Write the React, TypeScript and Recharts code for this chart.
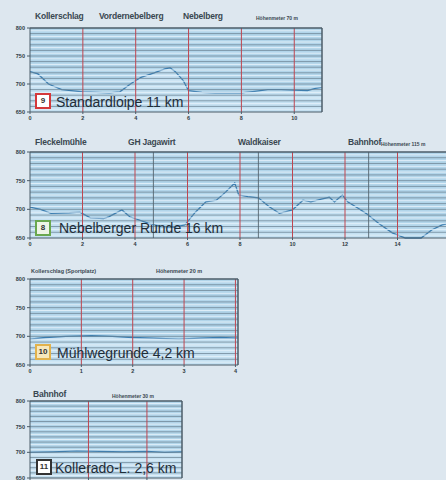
import React from "react";
import {
  Area,
  CartesianGrid,
  ComposedChart,
  ReferenceLine,
  XAxis,
  YAxis,
} from "recharts";

// Höhenachse (gleich für alle Loipen)
const elevTicks = [650, 700, 750, 800];

// 9 Standardloipe 11 km
const standardKm = [0, 0.3, 0.7, 1.2, 2, 3, 3.4, 3.8, 4.2, 4.7, 5.1, 5.3, 5.5, 5.8, 6.0, 6.5, 7, 8, 8.5, 9, 9.5, 10, 10.5, 10.8, 11.05];
const standardElev = [722, 718, 700, 690, 686, 684, 686, 700, 712, 720, 727, 729, 722, 706, 688, 685, 684, 684, 687, 690, 690, 689, 688, 692, 694];
const standardTicks = [0, 2, 4, 6, 8, 10];
const standardPlaces = ["Kollerschlag", "Vordernebelberg", "Nebelberg"];

// 8 Nebelberger Runde 16 km
const nebelKm = [0, 0.4, 0.8, 1.5, 1.9, 2.3, 2.8, 3.0, 3.5, 3.8, 4.5, 5.0, 5.5, 5.9, 6.3, 6.7, 7.1, 7.45, 7.8, 7.95, 8.3, 8.7, 9.1, 9.5, 10.0, 10.4, 10.7, 11.1, 11.4, 11.6, 11.9, 12.1, 12.5, 12.8, 13.3, 13.8, 14.3, 14.9, 15.3, 15.7, 16];
const nebelElev = [704, 700, 693, 694, 695, 685, 684, 687, 699, 687, 676, 670, 669, 673, 695, 713, 716, 730, 746, 725, 722, 720, 705, 693, 699, 716, 713, 718, 721, 713, 725, 713, 702, 693, 675, 659, 650, 650, 664, 673, 676];
const nebelTicks = [0, 2, 4, 6, 8, 10, 12, 14, 16];
const nebelMarkers = [4.7, 8.7, 12.9];
const nebelPlaces = ["Fleckelmühle", "GH Jagawirt", "Waldkaiser", "Bahnhof"];

// 10 Mühlwegrunde 4,2 km
const muehlKm = [0, 0.3, 0.7, 1.2, 1.6, 2.0, 2.4, 2.9, 3.3, 3.7, 4.05];
const muehlElev = [695, 698, 700, 701, 700, 698, 697, 695, 697, 698, 697];
const muehlTicks = [0, 1, 2, 3, 4];

// 11 Kollerado-L. 2,6 km
const kollKm = [0, 0.4, 0.8, 1.2, 1.6, 2.0, 2.3, 2.6];
const kollElev = [700, 701, 703, 702, 701, 702, 700, 701];
const kollTicks = [0, 1, 2];

const gridMinor: number[] = [];
for (let v = 655; v < 800; v += 10) gridMinor.push(v);
const gridMajor: number[] = [];
for (let v = 660; v < 800; v += 10) gridMajor.push(v);

const BORDER = "#4b5c68";
const RED = "#bf4650";
const tickStyle = { fontSize: 5.5, fill: "#2f3a42", fontWeight: 700 };

interface ProfileProps {
  km: number[];
  elev: number[];
  xMax: number;
  xTicks: number[];
  redLines: number[];
  markers?: number[];
  top: number;
  width: number;
  height: number;
  marginTop: number;
}

const Profile: React.FC<ProfileProps> = ({ km, elev, xMax, xTicks, redLines, markers = [], top, width, height, marginTop }) => {
  const data = km.map((k, i) => ({ km: k, elev: elev[i] }));
  return (
    <div style={{ position: "absolute", left: 0, top }}>
      <ComposedChart width={width} height={height} data={data} margin={{ top: marginTop, right: 8, left: 0, bottom: 0 }}>
        <CartesianGrid fill="#b2d5ea" horizontal={false} vertical={false} />
        {gridMinor.map((v) => (
          <ReferenceLine key={`n${v}`} y={v} stroke="#e4f1f9" strokeWidth={0.9} />
        ))}
        {gridMajor.map((v) => (
          <ReferenceLine key={`j${v}`} y={v} stroke="#6f8797" strokeWidth={0.8} />
        ))}
        {redLines.map((x) => (
          <ReferenceLine key={`r${x}`} x={x} stroke={RED} strokeWidth={1} />
        ))}
        {markers.map((x) => (
          <ReferenceLine key={`m${x}`} x={x} stroke="#55656f" strokeWidth={0.9} />
        ))}
        <ReferenceLine y={800} stroke={BORDER} strokeWidth={1.5} />
        <ReferenceLine x={xMax} stroke={BORDER} strokeWidth={1.5} />
        <XAxis
          type="number"
          dataKey="km"
          domain={[0, xMax]}
          ticks={xTicks}
          allowDataOverflow
          height={13}
          tick={tickStyle}
          tickSize={2}
          stroke={BORDER}
          interval={0}
        />
        <YAxis
          type="number"
          domain={[650, 800]}
          ticks={elevTicks}
          width={30}
          tick={tickStyle}
          tickSize={3}
          stroke={BORDER}
          interval={0}
        />
        <Area
          type="linear"
          dataKey="elev"
          baseValue={650}
          stroke="#3b7db0"
          strokeWidth={1.3}
          fill="#d6ecf8"
          fillOpacity={0.5}
          isAnimationActive={false}
          dot={false}
          activeDot={false}
        />
      </ComposedChart>
    </div>
  );
};

const placeStyle: React.CSSProperties = {
  position: "absolute",
  fontSize: 8.5,
  fontWeight: 700,
  color: "#3a4751",
  whiteSpace: "nowrap",
  letterSpacing: -0.2,
};
const smallStyle: React.CSSProperties = {
  position: "absolute",
  fontSize: 5,
  fontWeight: 700,
  color: "#3a4751",
  whiteSpace: "nowrap",
};
const titleStyle: React.CSSProperties = {
  position: "absolute",
  fontSize: 14,
  color: "#1f2d38",
  whiteSpace: "nowrap",
  lineHeight: "16px",
};

const Badge: React.FC<{ n: string; left: number; top: number; border: string; bg: string }> = ({ n, left, top, border, bg }) => (
  <div
    style={{
      position: "absolute",
      left,
      top,
      width: 12,
      height: 12,
      border: `2px solid ${border}`,
      background: bg,
      fontSize: 8,
      fontWeight: 700,
      textAlign: "center",
      lineHeight: "12px",
      color: "#333",
    }}
  >
    {n}
  </div>
);

export default function App() {
  return (
    <div
      style={{
        position: "absolute",
        left: 0,
        top: 0,
        width: 446,
        height: 480,
        overflow: "hidden",
        background: "#dde7ef",
        fontFamily: "'Liberation Sans', Arial, sans-serif",
      }}
    >
      <Profile km={standardKm} elev={standardElev} xMax={11.05} xTicks={standardTicks} redLines={[2, 4, 6, 8, 10]} top={0} width={330} height={125} marginTop={28} />
      <span style={{ ...placeStyle, left: 35, top: 11 }}>{standardPlaces[0]}</span>
      <span style={{ ...placeStyle, left: 99, top: 11 }}>{standardPlaces[1]}</span>
      <span style={{ ...placeStyle, left: 183, top: 11 }}>{standardPlaces[2]}</span>
      <span style={{ ...smallStyle, left: 256, top: 15 }}>Höhenmeter 70 m</span>
      <Badge n="9" left={35} top={93} border="#d4393b" bg="#ffffff" />
      <span style={{ ...titleStyle, left: 56, top: 94 }}>Standardloipe 11 km</span>

      <Profile km={nebelKm} elev={nebelElev} xMax={16} xTicks={nebelTicks} redLines={[2, 4, 6, 8, 10, 12, 14]} markers={nebelMarkers} top={130} width={458} height={121} marginTop={22} />
      <span style={{ ...placeStyle, left: 35, top: 137 }}>{nebelPlaces[0]}</span>
      <span style={{ ...placeStyle, left: 128, top: 137 }}>{nebelPlaces[1]}</span>
      <span style={{ ...placeStyle, left: 238, top: 137 }}>{nebelPlaces[2]}</span>
      <span style={{ ...placeStyle, left: 348, top: 137 }}>{nebelPlaces[3]}</span>
      <span style={{ ...smallStyle, left: 381, top: 141 }}>Höhenmeter 115 m</span>
      <Badge n="8" left={35} top={220} border="#6aa84f" bg="#eef5e6" />
      <span style={{ ...titleStyle, left: 59, top: 220 }}>Nebelberger Runde 16 km</span>

      <Profile km={muehlKm} elev={muehlElev} xMax={4.05} xTicks={muehlTicks} redLines={[1, 2, 3, 4]} top={260} width={246} height={118} marginTop={19} />
      <span style={{ ...smallStyle, left: 31, top: 268, fontSize: 5.5 }}>Kollerschlag (Sportplatz)</span>
      <span style={{ ...smallStyle, left: 156, top: 268, fontSize: 5.5 }}>Höhenmeter 20 m</span>
      <Badge n="10" left={35} top={344} border="#e2b24c" bg="#f6e8bd" />
      <span style={{ ...titleStyle, left: 57, top: 345 }}>Mühlwegrunde 4,2 km</span>

      <Profile km={kollKm} elev={kollElev} xMax={2.6} xTicks={kollTicks} redLines={[1, 2]} top={380} width={190} height={111} marginTop={21} />
      <span style={{ ...placeStyle, left: 33, top: 389 }}>Bahnhof</span>
      <span style={{ ...smallStyle, left: 112, top: 393 }}>Höhenmeter 30 m</span>
      <Badge n="11" left={36} top={459} border="#333333" bg="#ffffff" />
      <span style={{ ...titleStyle, left: 55, top: 460 }}>Kollerado-L. 2,6 km</span>
    </div>
  );
}
